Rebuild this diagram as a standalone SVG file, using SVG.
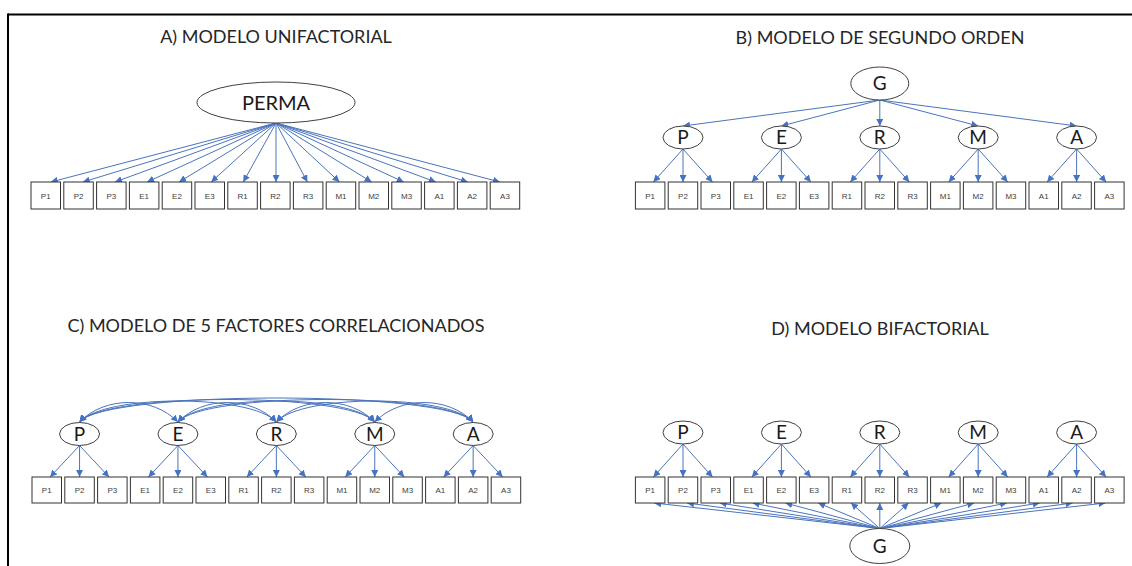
<svg xmlns="http://www.w3.org/2000/svg" width="1132" height="566" viewBox="0 0 1132 566">
<defs>
<style>
.title{font-family:Lato,"Liberation Sans",sans-serif;font-size:18px;fill:#262626;text-anchor:middle}
.flab{font-family:Lato,"Liberation Sans",sans-serif;font-size:19px;fill:#1a1a1a;text-anchor:middle}
.blab{font-family:"Liberation Sans",Arial,sans-serif;font-size:8px;fill:#404040;text-anchor:middle}
.box{fill:#fff;stroke:#333;stroke-width:1}
.ell{fill:#fff;stroke:#404040;stroke-width:1}
.ln{fill:none;stroke:#4a74bd;stroke-width:1;marker-end:url(#ah)}
.cv{fill:none;stroke:#4a74bd;stroke-width:1;marker-end:url(#ah);marker-start:url(#ahs)}
</style>
<marker id="ah" viewBox="0 0 8 8" refX="8" refY="4" markerWidth="7" markerHeight="7" markerUnits="userSpaceOnUse" orient="auto"><path d="M0,0 L8,4 L0,8 z" fill="#4472c4"/></marker>
<marker id="ahs" viewBox="0 0 8 8" refX="8" refY="4" markerWidth="7" markerHeight="7" markerUnits="userSpaceOnUse" orient="auto-start-reverse"><path d="M0,0 L8,4 L0,8 z" fill="#4472c4"/></marker>
</defs>
<rect width="1132" height="566" fill="#fff"/>
<g id="frame" stroke="#000" stroke-width="2" fill="none">
<line x1="8" y1="14.5" x2="1132" y2="14.5"/>
<line x1="8" y1="13.5" x2="8" y2="566"/>
</g>
<g id="titles">
<text class="title" x="276" y="43">A) MODELO UNIFACTORIAL</text>
<text class="title" x="880" y="44">B) MODELO DE SEGUNDO ORDEN</text>
<text class="title" x="276" y="332">C) MODELO DE 5 FACTORES CORRELACIONADOS</text>
<text class="title" x="880" y="335">D) MODELO BIFACTORIAL</text>
</g>
<g id="connectors">
<!-- A -->
<path class="ln" d="M276,123 L50.8,182"/>
<path class="ln" d="M276,123 L82.9,182"/>
<path class="ln" d="M276,123 L115,182"/>
<path class="ln" d="M276,123 L147.1,182"/>
<path class="ln" d="M276,123 L179.1,182"/>
<path class="ln" d="M276,123 L211.2,182"/>
<path class="ln" d="M276,123 L243.3,182"/>
<path class="ln" d="M276,123 L276,182"/>
<path class="ln" d="M276,123 L307.4,182"/>
<path class="ln" d="M276,123 L339.5,182"/>
<path class="ln" d="M276,123 L371.6,182"/>
<path class="ln" d="M276,123 L403.7,182"/>
<path class="ln" d="M276,123 L435.8,182"/>
<path class="ln" d="M276,123 L467.8,182"/>
<path class="ln" d="M276,123 L499.9,182"/>
<!-- B: G to factors -->
<path class="ln" d="M879.8,100 L683,126"/>
<path class="ln" d="M879.8,100 L781.4,126"/>
<path class="ln" d="M879.8,100 L879.8,126"/>
<path class="ln" d="M879.8,100 L978.2,126"/>
<path class="ln" d="M879.8,100 L1076.6,126"/>
<!-- B: factors to items -->
<path class="ln" d="M683,149 L653.4,182"/><path class="ln" d="M683,149 L683,182"/><path class="ln" d="M683,149 L712.5,182"/>
<path class="ln" d="M781.4,149 L751.9,182"/><path class="ln" d="M781.4,149 L781.4,182"/><path class="ln" d="M781.4,149 L810.9,182"/>
<path class="ln" d="M879.8,149 L850.3,182"/><path class="ln" d="M879.8,149 L879.8,182"/><path class="ln" d="M879.8,149 L909.3,182"/>
<path class="ln" d="M978.2,149 L948.7,182"/><path class="ln" d="M978.2,149 L978.2,182"/><path class="ln" d="M978.2,149 L1007.7,182"/>
<path class="ln" d="M1076.6,149 L1047.1,182"/><path class="ln" d="M1076.6,149 L1076.6,182"/><path class="ln" d="M1076.6,149 L1106.1,182"/>
<!-- C: correlations -->
<path class="cv" d="M79.55,422 C104.55,396 152.95,396 177.95,422"/>
<path class="cv" d="M79.55,422 C104.55,394 251.35,394 276.35,422"/>
<path class="cv" d="M79.55,422 C104.55,392 349.75,392 374.75,422"/>
<path class="cv" d="M79.55,422 C104.55,390 448.15,390 473.15,422"/>
<path class="cv" d="M177.95,422 C202.95,396 251.35,396 276.35,422"/>
<path class="cv" d="M177.95,422 C202.95,394 349.75,394 374.75,422"/>
<path class="cv" d="M177.95,422 C202.95,392 448.15,392 473.15,422"/>
<path class="cv" d="M276.35,422 C301.35,396 349.75,396 374.75,422"/>
<path class="cv" d="M276.35,422 C301.35,394 448.15,394 473.15,422"/>
<path class="cv" d="M374.75,422 C399.75,396 448.15,396 473.15,422"/>
<!-- C: factors to items -->
<path class="ln" d="M79.55,445.5 L50.05,477"/><path class="ln" d="M79.55,445.5 L79.55,477"/><path class="ln" d="M79.55,445.5 L109.05,477"/>
<path class="ln" d="M177.95,445.5 L148.45,477"/><path class="ln" d="M177.95,445.5 L177.95,477"/><path class="ln" d="M177.95,445.5 L207.45,477"/>
<path class="ln" d="M276.35,445.5 L246.85,477"/><path class="ln" d="M276.35,445.5 L276.35,477"/><path class="ln" d="M276.35,445.5 L305.85,477"/>
<path class="ln" d="M374.75,445.5 L345.25,477"/><path class="ln" d="M374.75,445.5 L374.75,477"/><path class="ln" d="M374.75,445.5 L404.25,477"/>
<path class="ln" d="M473.15,445.5 L443.65,477"/><path class="ln" d="M473.15,445.5 L473.15,477"/><path class="ln" d="M473.15,445.5 L502.65,477"/>
<!-- D: factors to items -->
<path class="ln" d="M683,444 L653.4,477"/><path class="ln" d="M683,444 L683,477"/><path class="ln" d="M683,444 L712.5,477"/>
<path class="ln" d="M781.4,444 L751.9,477"/><path class="ln" d="M781.4,444 L781.4,477"/><path class="ln" d="M781.4,444 L810.9,477"/>
<path class="ln" d="M879.8,444 L850.3,477"/><path class="ln" d="M879.8,444 L879.8,477"/><path class="ln" d="M879.8,444 L909.3,477"/>
<path class="ln" d="M978.2,444 L948.7,477"/><path class="ln" d="M978.2,444 L978.2,477"/><path class="ln" d="M978.2,444 L1007.7,477"/>
<path class="ln" d="M1076.6,444 L1047.1,477"/><path class="ln" d="M1076.6,444 L1076.6,477"/><path class="ln" d="M1076.6,444 L1106.1,477"/>
<!-- D: G to items -->
<path class="ln" d="M879.8,528.5 L654.2,503"/>
<path class="ln" d="M879.8,528.5 L687,503"/>
<path class="ln" d="M879.8,528.5 L719.8,503"/>
<path class="ln" d="M879.8,528.5 L752.6,503"/>
<path class="ln" d="M879.8,528.5 L785.4,503"/>
<path class="ln" d="M879.8,528.5 L818.2,503"/>
<path class="ln" d="M879.8,528.5 L851,503"/>
<path class="ln" d="M879.8,528.5 L879.8,503"/>
<path class="ln" d="M879.8,528.5 L908.6,503"/>
<path class="ln" d="M879.8,528.5 L941.4,503"/>
<path class="ln" d="M879.8,528.5 L974.2,503"/>
<path class="ln" d="M879.8,528.5 L1007,503"/>
<path class="ln" d="M879.8,528.5 L1039.8,503"/>
<path class="ln" d="M879.8,528.5 L1072.6,503"/>
<path class="ln" d="M879.8,528.5 L1105.4,503"/>
</g>
<!-- Panel A nodes -->
<g id="A-PERMA"><ellipse class="ell" cx="276" cy="102.5" rx="79" ry="20.5"/><text class="flab" x="276" y="109.5" style="font-size:20px">PERMA</text></g>
<g id="A-P1"><rect class="box" x="31" y="182" width="29.5" height="27"/><text class="blab" x="45.75" y="198.5">P1</text></g>
<g id="A-P2"><rect class="box" x="63.8" y="182" width="29.5" height="27"/><text class="blab" x="78.55" y="198.5">P2</text></g>
<g id="A-P3"><rect class="box" x="96.6" y="182" width="29.5" height="27"/><text class="blab" x="111.35" y="198.5">P3</text></g>
<g id="A-E1"><rect class="box" x="129.4" y="182" width="29.5" height="27"/><text class="blab" x="144.15" y="198.5">E1</text></g>
<g id="A-E2"><rect class="box" x="162.2" y="182" width="29.5" height="27"/><text class="blab" x="176.95" y="198.5">E2</text></g>
<g id="A-E3"><rect class="box" x="195" y="182" width="29.5" height="27"/><text class="blab" x="209.75" y="198.5">E3</text></g>
<g id="A-R1"><rect class="box" x="227.8" y="182" width="29.5" height="27"/><text class="blab" x="242.55" y="198.5">R1</text></g>
<g id="A-R2"><rect class="box" x="260.6" y="182" width="29.5" height="27"/><text class="blab" x="275.35" y="198.5">R2</text></g>
<g id="A-R3"><rect class="box" x="293.4" y="182" width="29.5" height="27"/><text class="blab" x="308.15" y="198.5">R3</text></g>
<g id="A-M1"><rect class="box" x="326.2" y="182" width="29.5" height="27"/><text class="blab" x="340.95" y="198.5">M1</text></g>
<g id="A-M2"><rect class="box" x="359" y="182" width="29.5" height="27"/><text class="blab" x="373.75" y="198.5">M2</text></g>
<g id="A-M3"><rect class="box" x="391.8" y="182" width="29.5" height="27"/><text class="blab" x="406.55" y="198.5">M3</text></g>
<g id="A-A1"><rect class="box" x="424.6" y="182" width="29.5" height="27"/><text class="blab" x="439.35" y="198.5">A1</text></g>
<g id="A-A2"><rect class="box" x="457.4" y="182" width="29.5" height="27"/><text class="blab" x="472.15" y="198.5">A2</text></g>
<g id="A-A3"><rect class="box" x="490.2" y="182" width="29.5" height="27"/><text class="blab" x="504.95" y="198.5">A3</text></g>
<!-- Panel B nodes -->
<g id="B-G"><ellipse class="ell" cx="879.8" cy="83.5" rx="29" ry="16.5"/><text class="flab" x="879.8" y="90.3">G</text></g>
<g id="B-P"><ellipse class="ell" cx="683" cy="137.5" rx="20" ry="11.5"/><text class="flab" x="683" y="144.3">P</text></g>
<g id="B-E"><ellipse class="ell" cx="781.4" cy="137.5" rx="20" ry="11.5"/><text class="flab" x="781.4" y="144.3">E</text></g>
<g id="B-R"><ellipse class="ell" cx="879.8" cy="137.5" rx="20" ry="11.5"/><text class="flab" x="879.8" y="144.3">R</text></g>
<g id="B-M"><ellipse class="ell" cx="978.2" cy="137.5" rx="20" ry="11.5"/><text class="flab" x="978.2" y="144.3">M</text></g>
<g id="B-A"><ellipse class="ell" cx="1076.6" cy="137.5" rx="20" ry="11.5"/><text class="flab" x="1076.6" y="144.3">A</text></g>
<g id="B-P1"><rect class="box" x="635.4" y="182" width="29.5" height="27"/><text class="blab" x="650.15" y="198.5">P1</text></g>
<g id="B-P2"><rect class="box" x="668.2" y="182" width="29.5" height="27"/><text class="blab" x="682.95" y="198.5">P2</text></g>
<g id="B-P3"><rect class="box" x="701" y="182" width="29.5" height="27"/><text class="blab" x="715.75" y="198.5">P3</text></g>
<g id="B-E1"><rect class="box" x="733.8" y="182" width="29.5" height="27"/><text class="blab" x="748.55" y="198.5">E1</text></g>
<g id="B-E2"><rect class="box" x="766.6" y="182" width="29.5" height="27"/><text class="blab" x="781.35" y="198.5">E2</text></g>
<g id="B-E3"><rect class="box" x="799.4" y="182" width="29.5" height="27"/><text class="blab" x="814.15" y="198.5">E3</text></g>
<g id="B-R1"><rect class="box" x="832.2" y="182" width="29.5" height="27"/><text class="blab" x="846.95" y="198.5">R1</text></g>
<g id="B-R2"><rect class="box" x="865" y="182" width="29.5" height="27"/><text class="blab" x="879.75" y="198.5">R2</text></g>
<g id="B-R3"><rect class="box" x="897.8" y="182" width="29.5" height="27"/><text class="blab" x="912.55" y="198.5">R3</text></g>
<g id="B-M1"><rect class="box" x="930.6" y="182" width="29.5" height="27"/><text class="blab" x="945.35" y="198.5">M1</text></g>
<g id="B-M2"><rect class="box" x="963.4" y="182" width="29.5" height="27"/><text class="blab" x="978.15" y="198.5">M2</text></g>
<g id="B-M3"><rect class="box" x="996.2" y="182" width="29.5" height="27"/><text class="blab" x="1010.95" y="198.5">M3</text></g>
<g id="B-A1"><rect class="box" x="1029" y="182" width="29.5" height="27"/><text class="blab" x="1043.75" y="198.5">A1</text></g>
<g id="B-A2"><rect class="box" x="1061.8" y="182" width="29.5" height="27"/><text class="blab" x="1076.55" y="198.5">A2</text></g>
<g id="B-A3"><rect class="box" x="1094.6" y="182" width="29.5" height="27"/><text class="blab" x="1109.35" y="198.5">A3</text></g>
<!-- Panel C nodes -->
<g id="C-P"><ellipse class="ell" cx="79.55" cy="434" rx="20" ry="11.5"/><text class="flab" x="79.55" y="440.8">P</text></g>
<g id="C-E"><ellipse class="ell" cx="177.95" cy="434" rx="20" ry="11.5"/><text class="flab" x="177.95" y="440.8">E</text></g>
<g id="C-R"><ellipse class="ell" cx="276.35" cy="434" rx="20" ry="11.5"/><text class="flab" x="276.35" y="440.8">R</text></g>
<g id="C-M"><ellipse class="ell" cx="374.75" cy="434" rx="20" ry="11.5"/><text class="flab" x="374.75" y="440.8">M</text></g>
<g id="C-A"><ellipse class="ell" cx="473.15" cy="434" rx="20" ry="11.5"/><text class="flab" x="473.15" y="440.8">A</text></g>
<g id="C-P1"><rect class="box" x="32" y="477" width="29.5" height="26"/><text class="blab" x="46.75" y="493">P1</text></g>
<g id="C-P2"><rect class="box" x="64.8" y="477" width="29.5" height="26"/><text class="blab" x="79.55" y="493">P2</text></g>
<g id="C-P3"><rect class="box" x="97.6" y="477" width="29.5" height="26"/><text class="blab" x="112.35" y="493">P3</text></g>
<g id="C-E1"><rect class="box" x="130.4" y="477" width="29.5" height="26"/><text class="blab" x="145.15" y="493">E1</text></g>
<g id="C-E2"><rect class="box" x="163.2" y="477" width="29.5" height="26"/><text class="blab" x="177.95" y="493">E2</text></g>
<g id="C-E3"><rect class="box" x="196" y="477" width="29.5" height="26"/><text class="blab" x="210.75" y="493">E3</text></g>
<g id="C-R1"><rect class="box" x="228.8" y="477" width="29.5" height="26"/><text class="blab" x="243.55" y="493">R1</text></g>
<g id="C-R2"><rect class="box" x="261.6" y="477" width="29.5" height="26"/><text class="blab" x="276.35" y="493">R2</text></g>
<g id="C-R3"><rect class="box" x="294.4" y="477" width="29.5" height="26"/><text class="blab" x="309.15" y="493">R3</text></g>
<g id="C-M1"><rect class="box" x="327.2" y="477" width="29.5" height="26"/><text class="blab" x="341.95" y="493">M1</text></g>
<g id="C-M2"><rect class="box" x="360" y="477" width="29.5" height="26"/><text class="blab" x="374.75" y="493">M2</text></g>
<g id="C-M3"><rect class="box" x="392.8" y="477" width="29.5" height="26"/><text class="blab" x="407.55" y="493">M3</text></g>
<g id="C-A1"><rect class="box" x="425.6" y="477" width="29.5" height="26"/><text class="blab" x="440.35" y="493">A1</text></g>
<g id="C-A2"><rect class="box" x="458.4" y="477" width="29.5" height="26"/><text class="blab" x="473.15" y="493">A2</text></g>
<g id="C-A3"><rect class="box" x="491.2" y="477" width="29.5" height="26"/><text class="blab" x="505.95" y="493">A3</text></g>
<!-- Panel D nodes -->
<g id="D-P"><ellipse class="ell" cx="683" cy="432.5" rx="20" ry="11.5"/><text class="flab" x="683" y="439.3">P</text></g>
<g id="D-E"><ellipse class="ell" cx="781.4" cy="432.5" rx="20" ry="11.5"/><text class="flab" x="781.4" y="439.3">E</text></g>
<g id="D-R"><ellipse class="ell" cx="879.8" cy="432.5" rx="20" ry="11.5"/><text class="flab" x="879.8" y="439.3">R</text></g>
<g id="D-M"><ellipse class="ell" cx="978.2" cy="432.5" rx="20" ry="11.5"/><text class="flab" x="978.2" y="439.3">M</text></g>
<g id="D-A"><ellipse class="ell" cx="1076.6" cy="432.5" rx="20" ry="11.5"/><text class="flab" x="1076.6" y="439.3">A</text></g>
<g id="D-G"><ellipse class="ell" cx="879.8" cy="546" rx="30" ry="17.5"/><text class="flab" x="879.8" y="552.8">G</text></g>
<g id="D-P1"><rect class="box" x="635.4" y="477" width="29.5" height="26"/><text class="blab" x="650.15" y="493">P1</text></g>
<g id="D-P2"><rect class="box" x="668.2" y="477" width="29.5" height="26"/><text class="blab" x="682.95" y="493">P2</text></g>
<g id="D-P3"><rect class="box" x="701" y="477" width="29.5" height="26"/><text class="blab" x="715.75" y="493">P3</text></g>
<g id="D-E1"><rect class="box" x="733.8" y="477" width="29.5" height="26"/><text class="blab" x="748.55" y="493">E1</text></g>
<g id="D-E2"><rect class="box" x="766.6" y="477" width="29.5" height="26"/><text class="blab" x="781.35" y="493">E2</text></g>
<g id="D-E3"><rect class="box" x="799.4" y="477" width="29.5" height="26"/><text class="blab" x="814.15" y="493">E3</text></g>
<g id="D-R1"><rect class="box" x="832.2" y="477" width="29.5" height="26"/><text class="blab" x="846.95" y="493">R1</text></g>
<g id="D-R2"><rect class="box" x="865" y="477" width="29.5" height="26"/><text class="blab" x="879.75" y="493">R2</text></g>
<g id="D-R3"><rect class="box" x="897.8" y="477" width="29.5" height="26"/><text class="blab" x="912.55" y="493">R3</text></g>
<g id="D-M1"><rect class="box" x="930.6" y="477" width="29.5" height="26"/><text class="blab" x="945.35" y="493">M1</text></g>
<g id="D-M2"><rect class="box" x="963.4" y="477" width="29.5" height="26"/><text class="blab" x="978.15" y="493">M2</text></g>
<g id="D-M3"><rect class="box" x="996.2" y="477" width="29.5" height="26"/><text class="blab" x="1010.95" y="493">M3</text></g>
<g id="D-A1"><rect class="box" x="1029" y="477" width="29.5" height="26"/><text class="blab" x="1043.75" y="493">A1</text></g>
<g id="D-A2"><rect class="box" x="1061.8" y="477" width="29.5" height="26"/><text class="blab" x="1076.55" y="493">A2</text></g>
<g id="D-A3"><rect class="box" x="1094.6" y="477" width="29.5" height="26"/><text class="blab" x="1109.35" y="493">A3</text></g>
</svg>
